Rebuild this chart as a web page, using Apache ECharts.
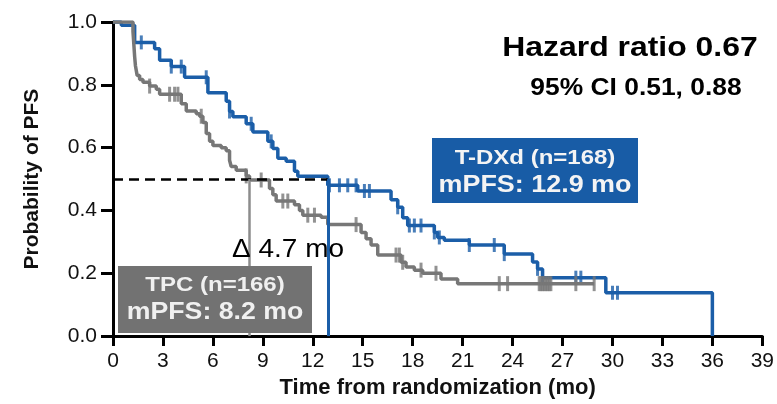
<!DOCTYPE html>
<html>
<head>
<meta charset="utf-8">
<script src="https://cdn.jsdelivr.net/npm/echarts@6/dist/echarts.min.js"></script>
<style>
  html, body { margin: 0; padding: 0; background: #fff; }
  #km { width: 777px; height: 404px; }
</style>
</head>
<body>
<div id="km"></div>
<script>
// KM step points [month, probability]
var tdxdSteps = [[0, 1], [0.5, 0.99], [1.3, 0.935], [2.5, 0.915], [2.8, 0.878], [3.5, 0.858], [4.3, 0.824],
  [5.7, 0.775], [6.8, 0.748], [7.0, 0.715], [7.2, 0.698], [8.0, 0.676], [8.4, 0.65], [9.3, 0.62], [9.6, 0.597],
  [9.9, 0.566], [10.4, 0.557], [10.9, 0.525], [11.1, 0.509], [12.9, 0.48], [14.7, 0.462], [16.7, 0.434],
  [17.1, 0.41], [17.4, 0.377], [17.7, 0.352], [19.3, 0.33], [19.5, 0.314], [19.9, 0.305], [21.4, 0.29],
  [23.5, 0.261], [25.2, 0.236], [25.5, 0.214], [25.8, 0.186], [29.6, 0.138], [36, 0]];
var tpcSteps = [[0, 1], [1.2, 0.97], [1.25, 0.93], [1.3, 0.89], [1.35, 0.86], [1.45, 0.83], [1.6, 0.817],
  [1.8, 0.808], [2.2, 0.796], [2.6, 0.786], [2.8, 0.77], [4.1, 0.74], [4.4, 0.717], [5.0, 0.708], [5.2, 0.70],
  [5.4, 0.68], [5.6, 0.645], [5.8, 0.62], [6.0, 0.607], [6.5, 0.60], [6.8, 0.59], [7.0, 0.56], [7.1, 0.54],
  [7.4, 0.528], [8.0, 0.51], [8.2, 0.497], [9.4, 0.47], [9.6, 0.45], [9.8, 0.43], [10.9, 0.418], [11.2, 0.40],
  [11.4, 0.385], [12.5, 0.378], [12.9, 0.355], [14.9, 0.33], [15.2, 0.31], [15.5, 0.29], [15.9, 0.258],
  [17.3, 0.235], [17.6, 0.22], [18.1, 0.21], [18.6, 0.20], [19.7, 0.182], [20.7, 0.167], [28.9, 0.167]];
// censoring times (months)
var tdxdCensor = [1.7, 3.5, 4.1, 5.6, 7.0, 8.3, 9.5, 13.0, 13.6, 14.1, 14.6, 15.1, 15.4, 17.1, 17.8, 18.1, 18.5,
  19.3, 19.6, 21.4, 22.9, 23.5, 25.5, 25.8, 27.8, 28.1, 30.0, 30.3];
var tpcCensor = [2.2, 3.4, 3.7, 3.9, 5.3, 8.0, 8.9, 10.2, 10.5, 11.7, 12.1, 14.6, 17.0, 17.2, 17.4, 18.5, 19.4,
  23.2, 23.7, 25.6, 25.7, 25.8, 25.9, 26.0, 26.1, 26.2, 26.3, 27.8, 28.9];
var xTicks = [0, 3, 6, 9, 12, 15, 18, 21, 24, 27, 30, 33, 36, 39];
var yTicks = [0, 0.2, 0.4, 0.6, 0.8, 1.0];
var medianTdxd = 12.9;
var medianTpc = 8.2;

var blue = '#1b5ea8';
var gray = '#777777';
var font = '"Liberation Sans", Arial, sans-serif';

// survival value at time t (last step at or before t)
function survAt(steps, t) {
  var s = steps[0][1];
  for (var i = 0; i < steps.length; i++) {
    if (steps[i][0] <= t) s = steps[i][1];
  }
  return s;
}
function censorPoints(steps, times) {
  return times.map(function (t) { return [t, survAt(steps, t)]; });
}

var chart = echarts.init(document.getElementById('km'));
chart.setOption({
  animation: false,
  grid: { left: 113, right: 9, top: 22, bottom: 64 },
  xAxis: {
    type: 'value', min: xTicks[0], max: xTicks[xTicks.length - 1], interval: 3,
    name: 'Time from randomization (mo)', nameLocation: 'middle', nameGap: 40,
    nameTextStyle: { fontFamily: font, fontSize: 22, fontWeight: 'bold', color: '#111' },
    axisLine: { lineStyle: { color: '#000', width: 3 } },
    axisTick: { length: 10, lineStyle: { color: '#000', width: 3 } },
    axisLabel: { margin: 15, fontFamily: font, fontSize: 21, color: '#111', showMaxLabel: true },
    splitLine: { show: false }
  },
  yAxis: {
    type: 'value', min: 0, max: 1, interval: 0.2,
    name: 'Probability of PFS', nameLocation: 'middle', nameGap: 70,
    nameTextStyle: { fontFamily: font, fontSize: 21, fontWeight: 'bold', color: '#111' },
    axisLine: { show: true, lineStyle: { color: '#000', width: 3 } },
    axisTick: { show: true, length: 12, lineStyle: { color: '#000', width: 3 } },
    axisLabel: { margin: 16, fontFamily: font, fontSize: 21, color: '#111',
      formatter: function (v) { return v.toFixed(1); } },
    splitLine: { show: false }
  },
  series: [
    {
      name: 'T-DXd', type: 'line', step: 'end', data: tdxdSteps, symbol: 'none', z: 3,
      lineStyle: { color: blue, width: 3.5 },
      markLine: {
        silent: true, symbol: 'none', label: { show: false },
        data: [
          [{ coord: [0, 0.5], lineStyle: { color: '#000', width: 2.5, type: [10, 6] } }, { coord: [medianTdxd, 0.5] }],
          [{ coord: [medianTpc, 0.5], lineStyle: { color: '#8c8c8c', width: 2.5, type: 'solid' } }, { coord: [medianTpc, 0] }],
          [{ coord: [medianTdxd, 0.5], lineStyle: { color: blue, width: 3, type: 'solid' } }, { coord: [medianTdxd, 0] }]
        ]
      }
    },
    {
      name: 'T-DXd censored', type: 'scatter', data: censorPoints(tdxdSteps, tdxdCensor), z: 3,
      symbol: 'rect', symbolSize: [3, 14], itemStyle: { color: blue }
    },
    {
      name: 'TPC', type: 'line', step: 'end', data: tpcSteps, symbol: 'none', z: 4,
      lineStyle: { color: gray, width: 3.5 }
    },
    {
      name: 'TPC censored', type: 'scatter', data: censorPoints(tpcSteps, tpcCensor), z: 4,
      symbol: 'rect', symbolSize: [3, 15], itemStyle: { color: gray }
    }
  ],
  graphic: [
    { type: 'text', x: 630, y: 48, scaleX: 1.14, z: 100,
      style: { text: 'Hazard ratio 0.67', font: 'bold 28px ' + font, fill: '#000', textAlign: 'center', textVerticalAlign: 'middle' } },
    { type: 'text', x: 636, y: 88, scaleX: 1.1, z: 100,
      style: { text: '95% CI 0.51, 0.88', font: 'bold 24px ' + font, fill: '#000', textAlign: 'center', textVerticalAlign: 'middle' } },
    { type: 'rect', z: 100, shape: { x: 432, y: 138, width: 206, height: 65 }, style: { fill: '#185ca6' } },
    { type: 'text', x: 535, y: 158, scaleX: 1.2, z: 101,
      style: { text: 'T-DXd (n=168)', font: 'bold 20px ' + font, fill: '#f4f4f4', textAlign: 'center', textVerticalAlign: 'middle' } },
    { type: 'text', x: 535, y: 186, scaleX: 1.17, z: 101,
      style: { text: 'mPFS: 12.9 mo', font: 'bold 23px ' + font, fill: '#f4f4f4', textAlign: 'center', textVerticalAlign: 'middle' } },
    { type: 'rect', z: 100, shape: { x: 118, y: 266, width: 194, height: 67 }, style: { fill: '#727272' } },
    { type: 'text', x: 215, y: 285, scaleX: 1.2, z: 101,
      style: { text: 'TPC (n=166)', font: 'bold 20px ' + font, fill: '#f0f0f0', textAlign: 'center', textVerticalAlign: 'middle' } },
    { type: 'text', x: 215, y: 313, scaleX: 1.16, z: 101,
      style: { text: 'mPFS: 8.2 mo', font: 'bold 23px ' + font, fill: '#f0f0f0', textAlign: 'center', textVerticalAlign: 'middle' } },
    { type: 'text', x: 232, y: 250, scaleX: 1.12, z: 100,
      style: { text: 'Δ 4.7 mo', font: '25px ' + font, fill: '#000', textAlign: 'left', textVerticalAlign: 'middle' } }
  ]
});
</script>
</body>
</html>
